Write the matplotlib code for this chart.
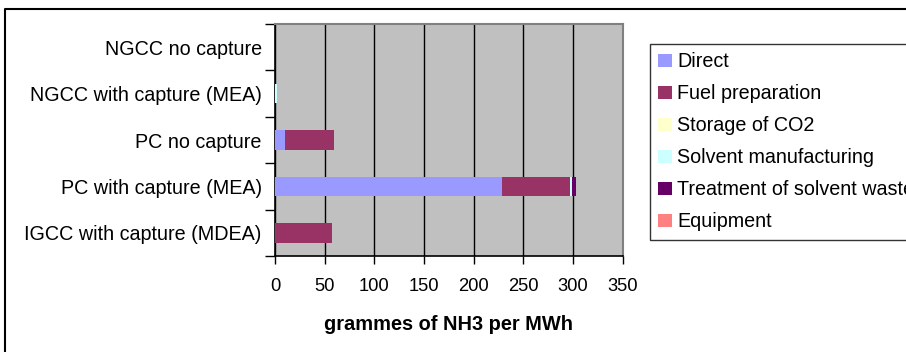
import matplotlib
matplotlib.use("Agg")
import matplotlib.pyplot as plt
from matplotlib.lines import Line2D
from matplotlib.patches import Patch
import numpy as np

plt.rcParams['font.family'] = ['Liberation Sans', 'DejaVu Sans']

categories = [
    "NGCC no capture",
    "NGCC with capture (MEA)",
    "PC no capture",
    "PC with capture (MEA)",
    "IGCC with capture (MDEA)",
]
series_names = [
    "Direct",
    "Fuel preparation",
    "Storage of CO2",
    "Solvent manufacturing",
    "Treatment of solvent waste",
    "Equipment",
]
direct = [0.0, 0.2, 10.0, 229.0, 0.5]
fuel_preparation = [0.0, 0.0, 49.0, 68.0, 57.0]
storage_co2 = [0.0, 0.0, 0.0, 0.0, 0.0]
solvent_manufacturing = [0.0, 2.3, 0.0, 2.3, 0.0]
solvent_waste = [0.0, 0.0, 0.0, 3.7, 0.0]
equipment = [0.0, 0.0, 0.0, 0.0, 0.0]
x_ticks = [0, 50, 100, 150, 200, 250, 300, 350]

series = [direct, fuel_preparation, storage_co2, solvent_manufacturing,
          solvent_waste, equipment]
colors = ["#9999FF", "#993366", "#FFFFCC", "#CCFFFF", "#660066", "#FF8080"]

W, H = 906, 352
fig = plt.figure(figsize=(W / 100, H / 100), dpi=100)
ax = fig.add_axes([275 / W, 1 - 256 / H, (622.5 - 275) / W, (256 - 24) / H])
ax.set_facecolor("#C0C0C0")

y = np.arange(len(categories))
left = np.zeros(len(categories))
for vals, col, name in zip(series, colors, series_names):
    vals = np.array(vals)
    ax.barh(y, vals, left=left, height=0.42, color=col, label=name,
            linewidth=0, zorder=3)
    left += vals

ax.set_xlim(0, 350)
ax.set_ylim(len(categories) - 0.5, -0.5)
ax.set_xticks(x_ticks)
ax.set_xticklabels([str(t) for t in x_ticks], fontsize=13.2)
ax.tick_params(axis="x", length=6, width=1, pad=10, color="black")
ax.xaxis.grid(True, color="black", linewidth=1, zorder=1)
ax.set_axisbelow(True)

ax.set_yticks(y)
ax.set_yticklabels(categories, fontsize=14.2)
ax.set_yticks(np.arange(len(categories) + 1) - 0.5, minor=True)
ax.tick_params(axis="y", which="major", length=0, pad=9.5)
ax.tick_params(axis="y", which="minor", length=7, width=1, color="black")

for side in ("top", "right"):
    ax.spines[side].set_color("#808080")
    ax.spines[side].set_linewidth(1.5)
for side in ("left", "bottom"):
    ax.spines[side].set_color("black")
    ax.spines[side].set_linewidth(1.2)

ax.set_xlabel("grammes of NH3 per MWh", fontsize=14.4, fontweight="bold",
              labelpad=14)

handles = [Patch(facecolor=c, edgecolor="none") for c in colors]
leg = fig.legend(handles, series_names, loc="upper left",
                 bbox_to_anchor=(650 / W, 1 - 44 / H),
                 fontsize=14.2, frameon=True, fancybox=False,
                 handlelength=0.68, handleheight=0.62, handletextpad=0.28,
                 labelspacing=0.66, borderpad=0.42, borderaxespad=0)
leg.get_frame().set_edgecolor("black")
leg.get_frame().set_linewidth(1.0)

# outer frame around the chart area
fig.add_artist(Line2D([5 / W, 5 / W, 1], [0, 1 - 9 / H, 1 - 9 / H],
                      transform=fig.transFigure, color="black",
                      linewidth=1.5))

fig.savefig("out.png", dpi=100)
